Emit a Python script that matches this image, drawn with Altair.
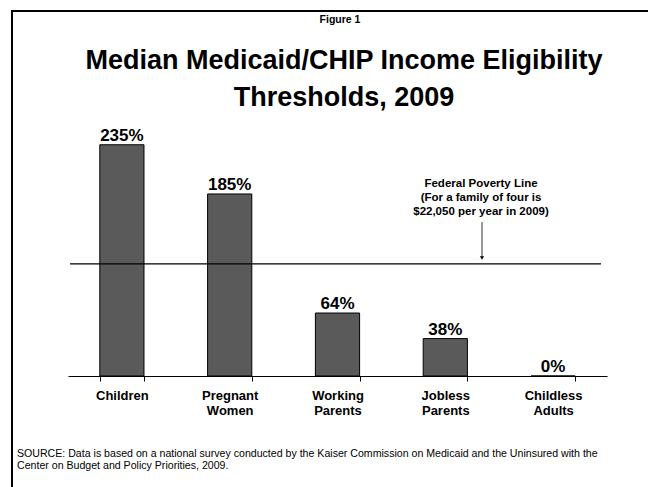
import altair as alt
import pandas as pd

categories = ["Children", "Pregnant Women", "Working Parents", "Jobless Parents", "Childless Adults"]
values = [235, 185, 64, 38, 0]
value_labels = ["235%", "185%", "64%", "38%", "0%"]

fpl_lines = ["Federal Poverty Line", "(For a family of four is", "$22,050 per year in 2009)"]
title_lines = ["Median Medicaid/CHIP Income Eligibility", "Thresholds, 2009"]
figure_label = "Figure 1"
source_lines = [
    "SOURCE: Data is based on a national survey conducted by the Kaiser Commission on Medicaid and the Uninsured with the",
    "Center on Budget and Policy Priorities, 2009.",
]
fpl_level = 114  # drawn position of the poverty line in the picture

df = pd.DataFrame({"cat": categories, "val": values, "lab": value_labels})

FONT = "Liberation Sans"
W, H = 539, 246
L, T = 68, 130
YS = alt.Scale(domain=[0, 250])

x = alt.X("cat:N", sort=categories, title=None,
          scale=alt.Scale(paddingInner=0.59, paddingOuter=0.295),
          axis=alt.Axis(labelAngle=0, labelFont=FONT, labelFontSize=13, labelFontWeight="bold",
                        labelColor="black", labelExpr="split(datum.label, ' ')", labelLineHeight=15,
                        labelPadding=8, tickBand="extent", tickSize=5, tickColor="black",
                        domainColor="black", labelBaseline="top", grid=False))
y = alt.Y("val:Q", title=None, scale=YS, axis=None)

bars = alt.Chart(df).mark_bar(color="#5a5a5a", stroke="black", strokeWidth=1).encode(x=x, y=y)
labels = alt.Chart(df).mark_text(font=FONT, fontSize=17, fontWeight="bold", color="black",
                                 baseline="alphabetic", dy=-4).encode(x=x, y=y, text="lab:N")

fpl = alt.Chart(pd.DataFrame({"v": [fpl_level]})).mark_rule(color="black", strokeWidth=1.2).encode(
    y=alt.Y("v:Q", scale=YS, axis=None), x=alt.value(2), x2=alt.value(533))

arrow = alt.Chart(pd.DataFrame({"a": [0]})).mark_rule(color="#333333", strokeWidth=1).encode(
    x=alt.value(414), y=alt.value(92), y2=alt.value(127))
arrow_head = alt.Chart(pd.DataFrame({"a": [0]})).mark_point(shape="triangle-down", filled=True,
                                                            color="black", size=18, opacity=1).encode(
    x=alt.value(414), y=alt.value(128))

fpl_text = alt.Chart(pd.DataFrame({"t": ["|".join(fpl_lines)]})).mark_text(
    font=FONT, fontSize=11.5, fontWeight="bold", color="black", baseline="alphabetic",
    lineBreak="|", lineHeight=14).encode(x=alt.value(413), y=alt.value(57), text="t:N")

fig = alt.Chart(pd.DataFrame({"t": [figure_label]})).mark_text(
    font=FONT, fontSize=10.5, fontWeight="bold", color="black", baseline="middle").encode(
    x=alt.value(272), y=alt.value(-110), text="t:N")

title = alt.Chart(pd.DataFrame({"t": ["|".join(title_lines)]})).mark_text(
    font=FONT, fontSize=27, fontWeight="bold", color="black", baseline="alphabetic",
    lineBreak="|", lineHeight=37).encode(x=alt.value(276), y=alt.value(-61), text="t:N")

source = alt.Chart(pd.DataFrame({"t": ["|".join(source_lines)]})).mark_text(
    font=FONT, fontSize=10.6, color="black", align="left", baseline="alphabetic",
    lineBreak="|", lineHeight=12).encode(x=alt.value(-51), y=alt.value(327), text="t:N")

border_top = alt.Chart(pd.DataFrame({"a": [0]})).mark_rule(color="black", strokeWidth=2).encode(
    x=alt.value(-57), x2=alt.value(580), y=alt.value(-119))
border_left = alt.Chart(pd.DataFrame({"a": [0]})).mark_rule(color="black", strokeWidth=2).encode(
    x=alt.value(-56), y=alt.value(-120), y2=alt.value(360))

chart = alt.layer(bars, labels, fpl, arrow, arrow_head, fpl_text, fig, title, source,
                  border_top, border_left).properties(
    width=W, height=H,
    background="white",
    autosize=alt.AutoSizeParams(type="none"),
    padding={"left": L, "top": T, "right": 650 - L - W, "bottom": 487 - T - H},
).configure_view(stroke="transparent", strokeWidth=0)

chart.save("out.html", embed_options={"renderer": "svg", "actions": False})
